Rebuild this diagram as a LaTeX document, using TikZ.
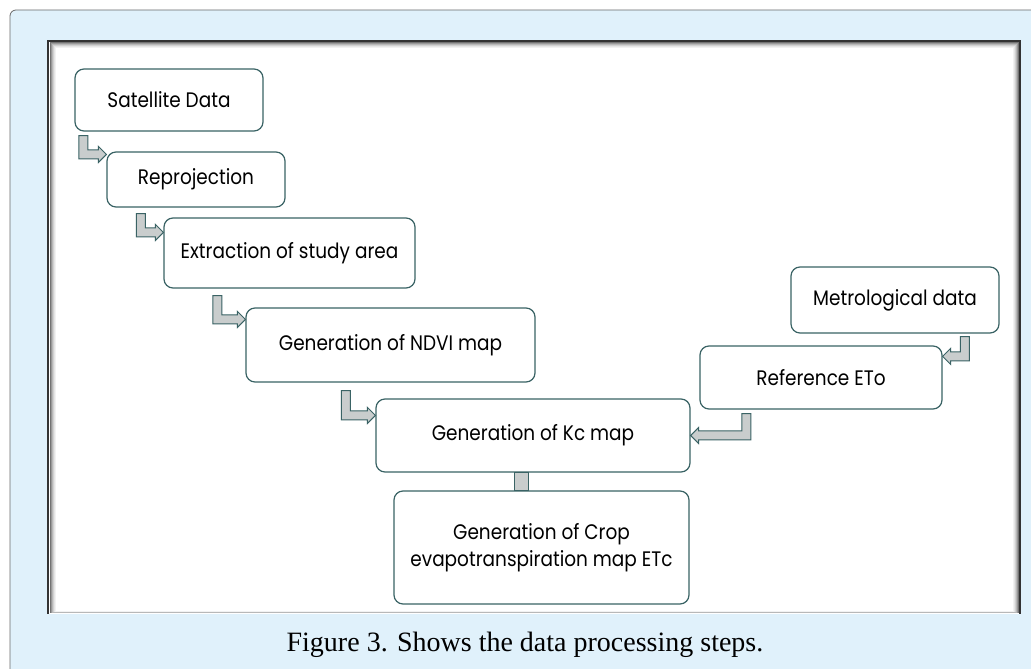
\documentclass[tikz,border=0pt]{standalone}
\usepackage{fontspec}
\setmainfont{Liberation Serif}
\newfontfamily\boxfont[FakeStretch=0.88]{Poppins}
\usetikzlibrary{calc}
\definecolor{panelblue}{HTML}{E0F1FB}
\definecolor{panelline}{HTML}{6A6A6A}
\definecolor{boxline}{HTML}{3A6365}
\definecolor{arrowgray}{HTML}{C9CDCD}
\tikzset{
  stepnode/.style={draw=boxline, line width=1.2pt, rounded corners=9pt, fill=white,
    inner sep=0pt, align=center, font=\boxfont\fontsize{21}{27}\selectfont},
  elbowarrow/.style={draw=boxline, fill=arrowgray, line width=1pt, line join=miter},
  panel/.style={draw=panelline, fill=panelblue, line width=0.8pt, rounded corners=6pt}
}
% bent block arrow: #1 top of stem, #2 tip, #3 = 1 to the right, -1 to the left
\newcommand{\elbow}[3]{%
\path[elbowarrow] let \p1=(#1), \p2=(#2) in
  (\x1-#3*4.5pt,\y1) -- (\x1+#3*4.5pt,\y1) -- (\x1+#3*4.5pt,\y2+4.5pt)
  -- (\x2-#3*8pt,\y2+4.5pt) -- (\x2-#3*8pt,\y2+8pt) -- (\x2,\y2)
  -- (\x2-#3*8pt,\y2-8pt) -- (\x2-#3*8pt,\y2-4.5pt) -- (\x1-#3*4.5pt,\y2-4.5pt) -- cycle;
}
\begin{document}
\begin{tikzpicture}[x=1pt,y=1pt]
\useasboundingbox (0,0) rectangle (1031,669);
% panel and frame
\draw[panel] (10,-20) rectangle (1060,659);
\fill[white] (48,55) rectangle (1020,628);
\foreach \i/\c in {2/55,3/40,4/28,5/18,6/10,7/5}
  \draw[black!\c, line width=1pt] (48+\i,55.5+\i/3) rectangle (1020-\i,628-\i);
\draw[black!80, line width=2.5pt] (48,55) -- (48,628) -- (1020,628) -- (1020,55);

% steps
\node[stepnode, minimum width=188pt, minimum height=62pt] (sat) at (169,569) {Satellite Data};
\node[stepnode, minimum width=178pt, minimum height=55pt] (rep) at (196,489.5) {Reprojection};
\node[stepnode, minimum width=251pt, minimum height=70pt] (ext) at (289.5,416) {Extraction of study area};
\node[stepnode, minimum width=289pt, minimum height=74pt] (ndvi) at (390.5,324) {Generation of NDVI map};
\node[stepnode, minimum width=314pt, minimum height=73pt] (kc) at (533,233.5) {Generation of Kc map};
\node[stepnode, minimum width=295pt, minimum height=113pt] (crop) at (541.5,121.5) {Generation of Crop\\evapotranspiration map ETc};
\node[stepnode, minimum width=208pt, minimum height=66pt] (met) at (895,369) {Metrological data};
\node[stepnode, minimum width=242pt, minimum height=63pt] (ref) at (821,291.5) {Reference ETo};

% arrows
\elbow{$(sat.south west)+(9,-4)$}{$(rep.north west)+(0,-3)$}{1}
\elbow{$(rep.south west)+(34.5,-6)$}{$(ext.north west)+(0,-15)$}{1}
\elbow{$(ext.south west)+(54,-7)$}{$(ndvi.north west)+(0,-12)$}{1}
\elbow{$(ndvi.south west)+(100.5,-8)$}{$(kc.north west)+(0,-17)$}{1}
\elbow{$(met.south west)+(174.5,-3)$}{$(ref.north east)+(0,-11)$}{-1}
\elbow{$(ref.south west)+(47,-4)$}{kc.east}{-1}
\coordinate (link) at (521,0);
\draw[elbowarrow] ($(link |- kc.south)+(-7,0)$) rectangle ($(link |- crop.north)+(7,0)$);

% caption
\node[font=\fontsize{28}{32}\selectfont] (caption) at (525,24) {Figure 3. Shows the data processing steps.};
\end{tikzpicture}
\end{document}
